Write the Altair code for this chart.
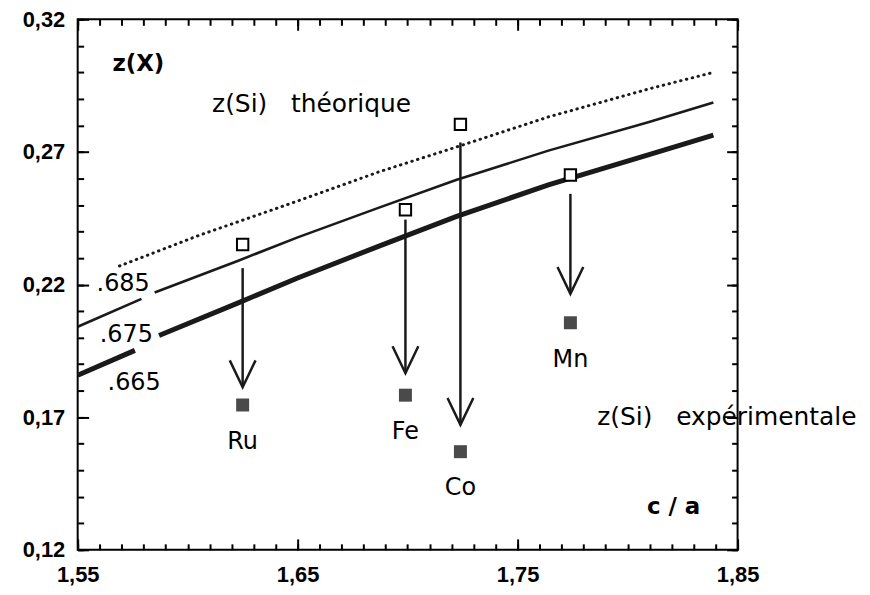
import altair as alt
import pandas as pd

# ---------------- data ----------------
# theoretical curves (c/a -> z(Si)); "seg" splits a curve where a label interrupts it
dotted_x = [1.569, 1.605, 1.650, 1.687, 1.722, 1.764, 1.809, 1.839]
dotted_y = [0.227, 0.2385, 0.2515, 0.2625, 0.2718, 0.2832, 0.2936, 0.300]
dotted_seg = [1, 1, 1, 1, 1, 1, 1, 1]

thin_x = [1.550, 1.579, 1.585, 1.623, 1.650, 1.687, 1.722, 1.764, 1.809, 1.839]
thin_y = [0.2041, 0.2146, 0.2170, 0.2290, 0.2378, 0.2490, 0.2594, 0.2705, 0.2811, 0.2886]
thin_seg = [1, 1, 2, 2, 2, 2, 2, 2, 2, 2]

thick_x = [1.550, 1.576, 1.587, 1.623, 1.650, 1.687, 1.722, 1.764, 1.809, 1.839]
thick_y = [0.1858, 0.1952, 0.2008, 0.2131, 0.2225, 0.2345, 0.2456, 0.2576, 0.2688, 0.2763]
thick_seg = [1, 1, 2, 2, 2, 2, 2, 2, 2, 2]

elements = ["Ru", "Fe", "Co", "Mn"]
elem_ca = [1.625, 1.699, 1.724, 1.774]
z_theo = [0.2351, 0.2482, 0.2804, 0.2613]
z_exp = [0.1746, 0.1783, 0.1570, 0.2056]
arrow_top = [0.2262, 0.2445, 0.2736, 0.2542]
arrow_tip = [0.1813, 0.1866, 0.1671, 0.2165]

x_major = [1.55, 1.65, 1.75, 1.85]
y_major = [0.12, 0.17, 0.22, 0.27, 0.32]
x_minor = [round(1.55 + 0.01 * i, 2) for i in range(31)]
y_minor = [round(0.12 + 0.01 * i, 2) for i in range(21)]

curve_labels = [".685", ".675", ".665"]
curve_label_x = [1.5586, 1.5600, 1.5636]
curve_label_y = [0.2202, 0.2008, 0.1828]

note_texts = ["z(Si)\u00a0\u00a0\u00a0théorique", "z(Si)\u00a0\u00a0\u00a0expérimentale"]
note_x = [1.6111, 1.7862]
note_y = [0.2849, 0.1671]

bold_texts = ["z(X)", "c / a"]
bold_x = [1.5658, 1.8088]
bold_y = [0.3006, 0.1335]

# ---------------- tables ----------------
def curve_df(xs_, ys_, seg):
    return pd.DataFrame({"seg": seg, "ca": xs_, "z": ys_})

dotted_df = curve_df(dotted_x, dotted_y, dotted_seg)
thin_df = curve_df(thin_x, thin_y, thin_seg)
thick_df = curve_df(thick_x, thick_y, thick_seg)

pts = pd.DataFrame({"el": elements, "ca": elem_ca, "theo": z_theo, "exp": z_exp,
                    "top": arrow_top, "tip": arrow_tip})
clab = pd.DataFrame({"t": curve_labels, "ca": curve_label_x, "z": curve_label_y})
notes = pd.DataFrame({"t": note_texts, "ca": note_x, "z": note_y})
bnotes = pd.DataFrame({"t": bold_texts, "ca": bold_x, "z": bold_y})

W, H = 663, 533
FONT = "DejaVu Sans"
TICKFONT = "Liberation Sans"
xs = alt.Scale(domain=[1.55, 1.85], nice=False, zero=False)
ys = alt.Scale(domain=[0.12, 0.32], nice=False, zero=False)
MINOR, MAJOR = 6, 11
INK = "#1a1a1a"


def tick_axis(orient, offset, values, size):
    return alt.Axis(orient=orient, offset=offset, values=values, tickSize=size,
                    tickWidth=2, tickColor="black", labels=False, domain=False,
                    grid=False, title=None)


def label_axis(orient, values, pad):
    return alt.Axis(orient=orient, values=values, ticks=False, tickSize=0,
                    domain=False, grid=False, title=None, labelFont=TICKFONT,
                    labelFontWeight="bold", labelFontSize=22, labelColor="black",
                    labelPadding=pad, labelFlush=False, labelOverlap=False,
                    labelExpr="replace(format(datum.value, '.2f'), '.', ',')")


dotted = alt.Chart(dotted_df).mark_line(color=INK, strokeWidth=3, strokeCap="round",
                                        strokeDash=[0.5, 5.5]).encode(
    x=alt.X("ca:Q", scale=xs, axis=label_axis("bottom", x_major, 15)),
    y=alt.Y("z:Q", scale=ys, axis=label_axis("left", y_major, 13)),
    detail="seg:N",
)

thin = alt.Chart(thin_df).mark_line(color=INK, strokeWidth=2.6).encode(
    x=alt.X("ca:Q", scale=xs, axis=None),
    y=alt.Y("z:Q", scale=ys, axis=None),
    detail="seg:N",
)

thick = alt.Chart(thick_df).mark_line(color=INK, strokeWidth=5).encode(
    x=alt.X("ca:Q", scale=xs, axis=None),
    y=alt.Y("z:Q", scale=ys, axis=None),
    detail="seg:N",
)

open_sq = alt.Chart(pts).mark_square(filled=True, fill="white", stroke="black",
                                     strokeWidth=2, size=130, opacity=1).encode(
    x=alt.X("ca:Q", scale=xs, axis=tick_axis("top", -H, x_minor, MINOR)),
    y=alt.Y("theo:Q", scale=ys, axis=tick_axis("right", -W, y_minor, MINOR)),
)

filled_sq = alt.Chart(pts).mark_square(filled=True, color="#4a4a4a", size=170, opacity=1).encode(
    x=alt.X("ca:Q", scale=xs, axis=tick_axis("top", -H, x_major, MAJOR)),
    y=alt.Y("exp:Q", scale=ys, axis=tick_axis("right", -W, y_major, MAJOR)),
)

shafts = alt.Chart(pts).mark_rule(color=INK, strokeWidth=2.5).encode(
    x=alt.X("ca:Q", scale=xs, axis=tick_axis("bottom", -H, x_minor, MINOR)),
    y=alt.Y("top:Q", scale=ys, axis=tick_axis("left", -W, y_minor, MINOR)),
    y2="tip:Q",
)

heads = alt.Chart(pts).mark_point(shape="M-0.48,-1L0,0L0.48,-1", filled=False,
                                  stroke=INK, strokeWidth=2.5, size=2916,
                                  opacity=1).encode(
    x=alt.X("ca:Q", scale=xs, axis=tick_axis("bottom", -H, x_major, MAJOR)),
    y=alt.Y("tip:Q", scale=ys, axis=tick_axis("left", -W, y_major, MAJOR)),
)

el_labels = alt.Chart(pts).mark_text(font=FONT, fontSize=24, color="black", dy=37).encode(
    x=alt.X("ca:Q", scale=xs, axis=None),
    y=alt.Y("exp:Q", scale=ys, axis=None),
    text="el:N",
)

curve_text = alt.Chart(clab).mark_text(font=FONT, fontSize=24, color="black",
                                       align="left", baseline="middle").encode(
    x=alt.X("ca:Q", scale=xs, axis=None),
    y=alt.Y("z:Q", scale=ys, axis=None),
    text="t:N",
)

note_text = alt.Chart(notes).mark_text(font=FONT, fontSize=25, color="black",
                                       align="left", baseline="alphabetic").encode(
    x=alt.X("ca:Q", scale=xs, axis=None),
    y=alt.Y("z:Q", scale=ys, axis=None),
    text="t:N",
)

bold_text = alt.Chart(bnotes).mark_text(font=FONT, fontSize=23, fontWeight="bold",
                                        color="black", align="left",
                                        baseline="alphabetic").encode(
    x=alt.X("ca:Q", scale=xs, axis=None),
    y=alt.Y("z:Q", scale=ys, axis=None),
    text="t:N",
)

chart = alt.layer(
    dotted, thin, thick, open_sq, filled_sq, shafts, heads,
    el_labels, curve_text, note_text, bold_text
).resolve_axis(x="independent", y="independent").properties(
    width=W, height=H,
    autosize=alt.AutoSizeParams(type="none"),
    padding={"left": 70, "top": 10, "right": 125, "bottom": 40},
    background="white",
).configure_view(stroke="black", strokeWidth=2)

chart.save("out.html", embed_options={"renderer": "svg", "actions": False})
